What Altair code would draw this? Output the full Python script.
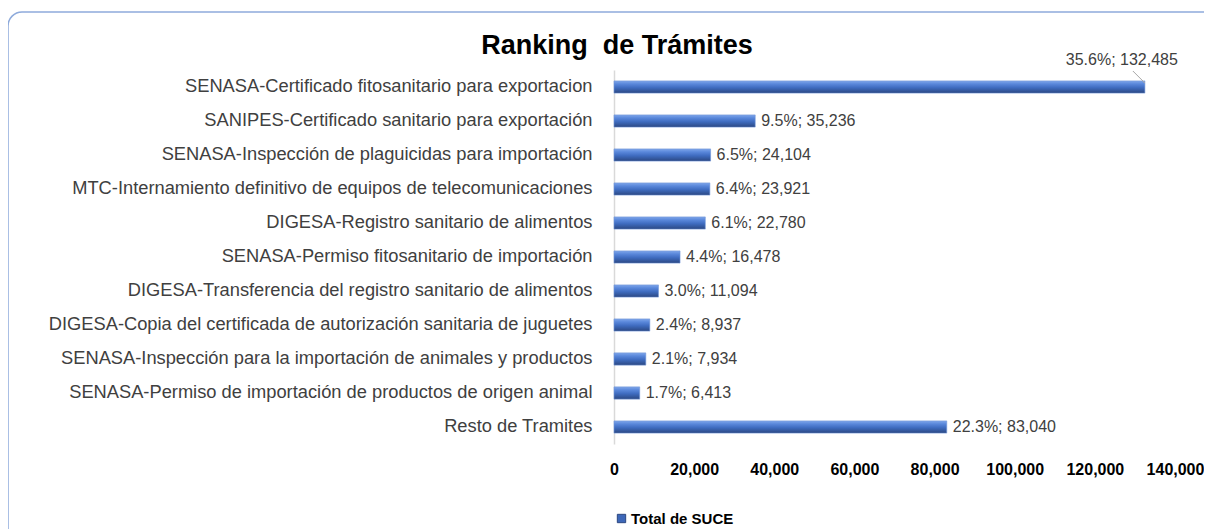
import altair as alt
import pandas as pd

categories = [
    "SENASA-Certificado fitosanitario para exportacion",
    "SANIPES-Certificado sanitario para exportación",
    "SENASA-Inspección de plaguicidas para importación",
    "MTC-Internamiento definitivo de equipos de telecomunicaciones",
    "DIGESA-Registro sanitario de alimentos",
    "SENASA-Permiso fitosanitario de importación",
    "DIGESA-Transferencia del registro sanitario de alimentos",
    "DIGESA-Copia del certificada de autorización sanitaria de juguetes",
    "SENASA-Inspección para la importación de animales y productos",
    "SENASA-Permiso de importación de productos de origen animal",
    "Resto de Tramites",
]
values = [132485, 35236, 24104, 23921, 22780, 16478, 11094, 8937, 7934, 6413, 83040]
percents = ["35.6%", "9.5%", "6.5%", "6.4%", "6.1%", "4.4%", "3.0%", "2.4%", "2.1%", "1.7%", "22.3%"]
x_ticks = [0, 20000, 40000, 60000, 80000, 100000, 120000, 140000]
series_name = "Total de SUCE"
chart_title = "Ranking\u00a0 de Trámites"

df = pd.DataFrame({"tramite": categories, "total": values, "pct": percents})
df["label"] = df["pct"] + "; " + df["total"].map("{:,}".format)
df["serie"] = series_name
df["rank"] = list(range(len(categories)))

title_df = pd.DataFrame({"t": [chart_title]})

FONT = "Liberation Sans"

grad = alt.Gradient(
    gradient="linear",
    x1=0, x2=0, y1=0, y2=1,
    stops=[
        alt.GradientStop(offset=0, color="#7fa6ea"),
        alt.GradientStop(offset=0.25, color="#5a88db"),
        alt.GradientStop(offset=0.55, color="#3f6cc0"),
        alt.GradientStop(offset=0.8, color="#34589e"),
        alt.GradientStop(offset=1, color="#2b4780"),
    ],
)

xenc = alt.X(
    "total:Q",
    scale=alt.Scale(domain=[0, 140000], nice=False),
    title=None,
    axis=alt.Axis(
        values=x_ticks, format=",d", domain=False, ticks=False, grid=False,
        labelFont=FONT, labelFontSize=16, labelFontWeight="bold", labelColor="#000000",
        labelPadding=17, labelFlush=False, labelOverlap=False,
    ),
)
yenc = alt.Y(
    "tramite:N",
    sort=categories,
    title=None,
    scale=alt.Scale(paddingInner=0.64, paddingOuter=0.32),
    axis=alt.Axis(
        ticks=False, grid=False, domain=True, domainColor="#d9d9d9", domainWidth=1.5,
        labelFont=FONT, labelFontSize=18.3, labelColor="#404040", labelPadding=22,
        labelLimit=700,
    ),
)

base = alt.Chart(df)

bars = base.mark_bar(fill=grad, stroke="#6f93d6", strokeWidth=0.6).encode(
    x=xenc,
    y=yenc,
    color=alt.Color(
        "serie:N",
        scale=alt.Scale(range=["#3d67b8"]),
        legend=alt.Legend(
            title=None, orient="none", legendX=0, legendY=441,
            symbolType="square", symbolSize=70, symbolStrokeColor="#2b4780",
            symbolStrokeWidth=1, labelFont=FONT, labelFontSize=15,
            labelFontWeight="bold", labelColor="#000000", padding=0, labelOffset=2,
        ),
    ),
)

labels = base.transform_filter(alt.datum.rank > 0).mark_text(
    align="left", baseline="middle", dx=6, font=FONT, fontSize=16, color="#404040"
).encode(x="total:Q", y=alt.Y("tramite:N", sort=categories), text="label:N")

top_label = base.transform_filter(alt.datum.rank == 0).mark_text(
    align="right", baseline="middle", dx=33, dy=-27, font=FONT, fontSize=16, color="#404040"
).encode(x="total:Q", y=alt.Y("tramite:N", sort=categories), text="label:N")

leader = base.transform_filter(alt.datum.rank == 0).mark_rule(
    color="#a6a6a6", strokeWidth=1, xOffset=-12, yOffset=-16, x2Offset=0, y2Offset=-4
).encode(
    x="total:Q", x2="total:Q",
    y=alt.Y("tramite:N", sort=categories), y2=alt.Y2("tramite:N"),
)

frame = alt.Chart(title_df).mark_rect(
    fill="#ffffff", fillOpacity=0, stroke="#8eaadb", strokeWidth=1.5, cornerRadius=14
).encode(
    x=alt.value(-606), x2=alt.value(660), y=alt.value(-58), y2=alt.value(500)
)

title = alt.Chart(title_df).mark_text(
    align="center", baseline="alphabetic", font=FONT, fontSize=27, fontWeight="bold",
    color="#000000"
).encode(x=alt.value(3), y=alt.value(-16), text="t:N")

chart = alt.layer(frame, title, bars, labels, leader, top_label).properties(
    width=561,
    height=374,
    background="#ffffff",
    view=alt.ViewBackground(strokeOpacity=0, strokeWidth=0),
    padding={"left": 606, "top": 62, "right": 29, "bottom": 85},
    autosize=alt.AutoSizeParams(type="none"),
).configure_view(strokeWidth=0, strokeOpacity=0)

chart.save("out.html", embed_options={"renderer": "svg", "actions": False})
